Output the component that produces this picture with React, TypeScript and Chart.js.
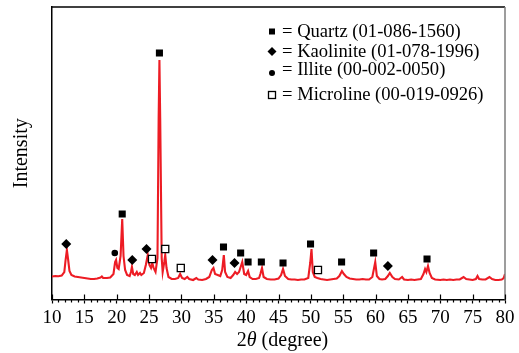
import React, { useEffect, useRef } from 'react';
import { Chart, registerables } from 'chart.js';

Chart.register(...registerables);

// ---- Data -------------------------------------------------------------
const twoTheta = [
  10.0, 10.5, 11.0, 11.5, 11.9, 12.1, 12.3, 12.5, 12.7, 13.0, 13.5, 14.0, 14.5, 15.0, 15.5, 16.0, 16.5,
  17.0, 17.5, 17.7, 17.9, 18.5, 19.0, 19.5, 19.75, 19.9, 20.1, 20.3, 20.6, 20.85, 21.05, 21.3, 21.6,
  22.0, 22.2, 22.35, 22.55, 22.8, 23.1, 23.3, 23.6, 23.8, 24.2, 24.5, 24.8, 25.05, 25.3, 25.5, 25.7,
  26.0, 26.3, 26.48, 26.6, 26.72, 26.95, 27.1, 27.35, 27.5, 27.7, 28.0, 28.5, 29.0, 29.5, 29.8, 30.1,
  30.5, 30.9, 31.2, 31.8, 32.3, 32.6, 33.2, 33.8, 34.3, 34.7, 34.95, 35.2, 35.6, 36.0, 36.3, 36.55,
  36.75, 37.1, 37.6, 38.0, 38.3, 38.6, 38.9, 39.2, 39.4, 39.7, 40.0, 40.3, 40.55, 41.0, 41.5, 42.0,
  42.2, 42.45, 42.7, 43.2, 43.8, 44.4, 45.0, 45.4, 45.7, 46.0, 46.5, 47.0, 47.5, 48.0, 48.5, 49.0,
  49.6, 49.9, 50.1, 50.3, 50.6, 51.0, 51.5, 52.0, 52.5, 53.0, 53.5, 54.0, 54.4, 54.8, 55.1, 55.5,
  56.0, 56.5, 57.0, 57.5, 58.0, 58.5, 59.0, 59.5, 59.95, 60.2, 60.6, 61.0, 61.5, 61.9, 62.2, 62.6,
  63.0, 63.6, 64.1, 64.4, 65.0, 65.5, 66.0, 66.5, 67.0, 67.4, 67.65, 67.85, 68.1, 68.35, 68.7, 69.2,
  70.0, 70.5, 71.0, 71.5, 72.0, 72.5, 73.0, 73.6, 74.0, 74.5, 75.0, 75.5, 75.75, 76.0, 76.5, 77.0,
  77.6, 78.0, 78.5, 79.0, 79.5, 79.8, 80.0,
];
const intensity = [
  215, 220, 218, 225, 260, 380, 480, 380, 270, 230, 215, 210, 205, 200, 195, 190, 190,
  195, 205, 215, 200, 200, 205, 240, 360, 380, 300, 290, 420, 790, 420, 280, 230,
  220, 260, 310, 240, 230, 260, 230, 250, 230, 250, 330, 430, 330, 300, 350, 300,
  260, 400, 1800, 2380, 1800, 400, 260, 360, 430, 300, 210, 190, 190, 200, 240, 200,
  190, 210, 190, 180, 200, 185, 180, 190, 210, 280, 300, 240, 230, 220, 280, 430,
  260, 210, 200, 230, 260, 240, 260, 320, 360, 240, 230, 270, 210, 190, 190, 200,
  240, 300, 210, 190, 185, 185, 195, 230, 290, 220, 190, 185, 185, 180, 185, 185,
  200, 350, 490, 260, 210, 200, 190, 185, 180, 185, 190, 195, 220, 270, 240, 210,
  195, 190, 185, 185, 190, 185, 185, 210, 360, 220, 190, 185, 190, 220, 250, 210,
  190, 185, 210, 185, 180, 185, 180, 185, 190, 240, 290, 260, 320, 250, 200, 185,
  180, 185, 180, 185, 180, 185, 185, 210, 190, 185, 180, 190, 220, 190, 185, 185,
  210, 190, 180, 180, 185, 200, 240,
];

const quartzX = [20.85, 26.6, 36.5, 39.15, 40.3, 42.35, 45.7, 49.95, 54.75, 59.7, 67.95];
const quartzY = [840, 2450, 510, 450, 360, 360, 350, 540, 360, 450, 390];

const kaoliniteX = [12.2, 22.4, 24.6, 34.8, 38.2, 61.9];
const kaoliniteY = [540, 380, 490, 380, 350, 320];

const illiteX = [19.7];
const illiteY = [450];

const microclineX = [25.45, 27.5, 29.9, 51.1];
const microclineY = [390, 490, 300, 280];

const legendLabels = [
  '= Quartz (01-086-1560)',
  '= Kaolinite (01-078-1996)',
  '= Illite (00-002-0050)',
  '= Microline (00-019-0926)',
];

const xMin = 10;
const xMax = 80;
const xMajorStep = 5;

// ---- Styles -----------------------------------------------------------
const FONT = '"Liberation Serif", "Times New Roman", serif';
const RED = '#ed1c24';

const toPoints = (xs: number[], ys: number[]) => xs.map((x, i) => ({ x, y: ys[i] }));

const decorPlugin = {
  id: 'decor',
  afterDraw(chart: any) {
    const { ctx, chartArea: a, scales } = chart;
    const x = scales.x;
    ctx.save();

    // top border (black) and right border (gray)
    ctx.lineWidth = 1.5;
    ctx.strokeStyle = '#000';
    ctx.beginPath();
    ctx.moveTo(a.left - 0.75, a.top);
    ctx.lineTo(a.right, a.top);
    ctx.stroke();
    ctx.strokeStyle = '#7d7d7d';
    ctx.beginPath();
    ctx.moveTo(a.right, a.top);
    ctx.lineTo(a.right, a.bottom);
    ctx.stroke();

    // ticks: majors cross the axis, minors below
    ctx.strokeStyle = '#000';
    ctx.lineWidth = 1.2;
    for (let v = xMin; v <= xMax; v++) {
      const px = Math.round(x.getPixelForValue(v)) + 0.5;
      ctx.beginPath();
      if (v % xMajorStep === 0) {
        ctx.moveTo(px, a.bottom - 5);
        ctx.lineTo(px, a.bottom);
      } else {
        ctx.moveTo(px, a.bottom);
        ctx.lineTo(px, a.bottom + 3);
      }
      ctx.stroke();
    }

    // x-axis title with italic theta
    ctx.fillStyle = '#000';
    ctx.textBaseline = 'alphabetic';
    ctx.textAlign = 'left';
    const parts = [
      { t: '2', f: `20px ${FONT}` },
      { t: 'θ', f: `italic 20px ${FONT}` },
      { t: ' (degree)', f: `20px ${FONT}` },
    ];
    let total = 0;
    for (const p of parts) {
      ctx.font = p.f;
      total += ctx.measureText(p.t).width;
    }
    let cx = (a.left + a.right) / 2 + 4 - total / 2;
    for (const p of parts) {
      ctx.font = p.f;
      ctx.fillText(p.t, cx, 346);
      cx += ctx.measureText(p.t).width;
    }

    // y-axis title
    ctx.save();
    ctx.translate(22, (a.top + a.bottom) / 2);
    ctx.rotate(-Math.PI / 2);
    ctx.textAlign = 'center';
    ctx.textBaseline = 'middle';
    ctx.font = `20px ${FONT}`;
    ctx.fillText('Intensity', 0, 0);
    ctx.restore();

    // legend
    const mx = 272;
    const markerY = [31.5, 51.5, 73, 95];
    const textY = [37, 57, 75, 100];
    ctx.font = `18.6px ${FONT}`;
    ctx.textAlign = 'left';
    ctx.textBaseline = 'alphabetic';
    legendLabels.forEach((label, i) => {
      const my = markerY[i];
      ctx.fillStyle = '#000';
      ctx.strokeStyle = '#000';
      if (i === 0) {
        ctx.fillRect(mx - 3, my - 3, 6, 6);
      } else if (i === 1) {
        ctx.beginPath();
        ctx.moveTo(mx, my - 4.5);
        ctx.lineTo(mx + 4.5, my);
        ctx.lineTo(mx, my + 4.5);
        ctx.lineTo(mx - 4.5, my);
        ctx.closePath();
        ctx.fill();
      } else if (i === 2) {
        ctx.beginPath();
        ctx.arc(mx, my, 3, 0, Math.PI * 2);
        ctx.fill();
      } else {
        ctx.lineWidth = 1.3;
        ctx.fillStyle = '#fff';
        ctx.fillRect(mx - 3.5, my - 3.5, 7, 7);
        ctx.strokeRect(mx - 3.5, my - 3.5, 7, 7);
        ctx.fillStyle = '#000';
      }
      ctx.fillText(label, 282, textY[i]);
    });

    ctx.restore();
  },
};

export default function App() {
  const canvasRef = useRef<HTMLCanvasElement | null>(null);

  useEffect(() => {
    document.body.style.margin = '0';
    const canvas = canvasRef.current;
    if (!canvas) return;

    const chart = new Chart(canvas, {
      type: 'line',
      data: {
        datasets: [
          {
            label: 'XRD',
            data: toPoints(twoTheta, intensity),
            borderColor: RED,
            borderWidth: 2.1,
            pointRadius: 0,
            tension: 0,
            fill: false,
            order: 2,
          },
          {
            label: 'Quartz',
            data: toPoints(quartzX, quartzY),
            showLine: false,
            pointStyle: 'rect',
            pointRadius: 5,
            backgroundColor: '#000',
            borderColor: '#000',
            borderWidth: 0,
            order: 1,
          },
          {
            label: 'Kaolinite',
            data: toPoints(kaoliniteX, kaoliniteY),
            showLine: false,
            pointStyle: 'rectRot',
            pointRadius: 5,
            backgroundColor: '#000',
            borderColor: '#000',
            borderWidth: 0,
            order: 1,
          },
          {
            label: 'Illite',
            data: toPoints(illiteX, illiteY),
            showLine: false,
            pointStyle: 'circle',
            pointRadius: 3.3,
            backgroundColor: '#000',
            borderColor: '#000',
            borderWidth: 0,
            order: 1,
          },
          {
            label: 'Microline',
            data: toPoints(microclineX, microclineY),
            showLine: false,
            pointStyle: 'rect',
            pointRadius: 5,
            backgroundColor: '#fff',
            borderColor: '#000',
            borderWidth: 1.3,
            order: 1,
          },
        ],
      },
      options: {
        responsive: false,
        animation: false,
        devicePixelRatio: 1,
        layout: { padding: { top: 7, right: 14, left: 0, bottom: 0 } },
        plugins: {
          legend: { display: false },
          tooltip: { enabled: false },
        },
        scales: {
          x: {
            type: 'linear',
            min: xMin,
            max: xMax,
            ticks: {
              stepSize: xMajorStep,
              autoSkip: false,
              maxRotation: 0,
              padding: 3,
              color: '#000',
              font: { family: FONT, size: 19 },
            },
            grid: {
              display: true,
              drawOnChartArea: false,
              drawTicks: true,
              tickLength: 4,
              tickWidth: 1.2,
              tickColor: '#000',
            },
            border: { display: true, color: '#000', width: 1.5 },
            afterFit: (s: any) => {
              s.height = 53.5;
            },
          },
          y: {
            min: -15,
            max: 2910,
            ticks: { display: false },
            grid: { display: false },
            border: { display: true, color: '#000', width: 1.5 },
            afterFit: (s: any) => {
              s.width = 52;
            },
          },
        },
      },
      plugins: [decorPlugin],
    });

    return () => chart.destroy();
  }, []);

  return (
    <div style={{ width: 519, height: 353, background: '#fff' }}>
      <canvas ref={canvasRef} width={519} height={353} style={{ display: 'block' }} />
    </div>
  );
}
